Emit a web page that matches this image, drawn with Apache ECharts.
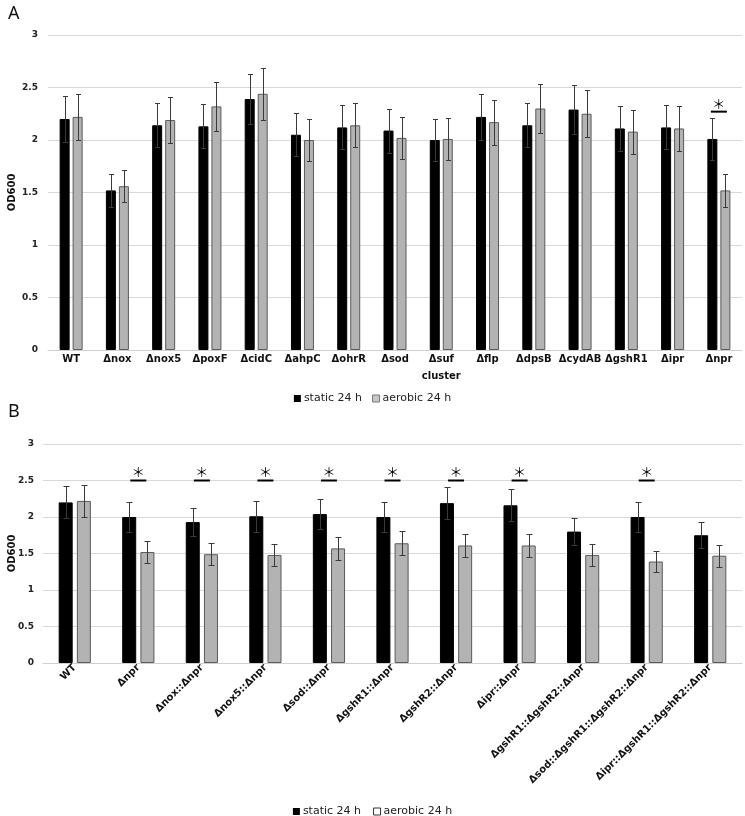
<!DOCTYPE html>
<html>
<head>
<meta charset="utf-8">
<script src="https://cdn.jsdelivr.net/npm/echarts@6/dist/echarts.min.js"></script>
<style>
html,body{margin:0;padding:0;background:#fff;}
#c{width:745px;height:816px;}
</style>
</head>
<body>
<div id="c"></div>
<script>
// ---- Panel A data ----
const catsA = ['WT','Δnox','Δnox5','ΔpoxF','ΔcidC','ΔahpC','ΔohrR','Δsod','Δsuf\ncluster','Δflp','ΔdpsB','ΔcydAB','ΔgshR1','Δipr','Δnpr'];
const staticA     = [2.20, 1.52, 2.14, 2.13, 2.39, 2.05, 2.12, 2.09, 2.00, 2.22, 2.14, 2.29, 2.11, 2.12, 2.01];
const staticErrA  = [0.22, 0.155,0.21, 0.21, 0.24, 0.205,0.21, 0.21, 0.20, 0.22, 0.21, 0.23, 0.21, 0.21, 0.20];
const aerobicA    = [2.22, 1.56, 2.19, 2.32, 2.44, 2.00, 2.14, 2.02, 2.01, 2.17, 2.30, 2.25, 2.08, 2.11, 1.52];
const aerobicErrA = [0.22, 0.155,0.22, 0.23, 0.245,0.20, 0.21, 0.20, 0.20, 0.215,0.235,0.225,0.21, 0.21, 0.155];
const starsA = [[14, 2.27]];

// ---- Panel B data ----
const catsB = ['WT','Δnpr','Δnox::Δnpr','Δnox5::Δnpr','Δsod::Δnpr','ΔgshR1::Δnpr','ΔgshR2::Δnpr','Δipr::Δnpr','ΔgshR1::ΔgshR2::Δnpr','Δsod::ΔgshR1::ΔgshR2::Δnpr','Δipr::ΔgshR1::ΔgshR2::Δnpr'];
const staticB     = [2.20, 2.00, 1.93, 2.01, 2.04, 2.00, 2.19, 2.16, 1.80, 2.00, 1.75];
const staticErrB  = [0.22, 0.21, 0.19, 0.21, 0.205,0.205,0.22, 0.22, 0.185,0.21, 0.18];
const aerobicB    = [2.22, 1.52, 1.49, 1.48, 1.57, 1.64, 1.61, 1.61, 1.48, 1.39, 1.47];
const aerobicErrB = [0.22, 0.15, 0.15, 0.15, 0.16, 0.165,0.16, 0.16, 0.15, 0.14, 0.15];
const starsB = [[1,2.5],[2,2.5],[3,2.5],[4,2.5],[5,2.5],[6,2.5],[7,2.5],[9,2.5]];

const seriesNames = ['static 24 h', 'aerobic 24 h'];

const FONT = 'DejaVu Sans';

function errSeries(axisIdx, vals, errs, offset, cap) {
  return {
    type: 'custom', xAxisIndex: axisIdx, yAxisIndex: axisIdx, silent: true, z: 5,
    data: vals.map((v, i) => [i, v - errs[i], v + errs[i]]),
    encode: { x: 0, y: [1, 2] },
    renderItem: function (params, api) {
      const lo = api.coord([api.value(0), api.value(1)]);
      const hi = api.coord([api.value(0), api.value(2)]);
      const x = Math.round(lo[0] + offset) + 0.5;
      const yl = Math.round(lo[1]) + 0.5, yh = Math.round(hi[1]) + 0.5;
      const st = { stroke: '#3a3a3a', lineWidth: 1 };
      return { type: 'group', children: [
        { type: 'line', shape: { x1: x, y1: yl, x2: x, y2: yh }, style: st },
        { type: 'line', shape: { x1: x - cap, y1: yh, x2: x + cap, y2: yh }, style: st },
        { type: 'line', shape: { x1: x - cap, y1: yl, x2: x + cap, y2: yl }, style: st }
      ]};
    }
  };
}

function starSeries(axisIdx, stars) {
  return {
    type: 'custom', xAxisIndex: axisIdx, yAxisIndex: axisIdx, silent: true, z: 6,
    data: stars,
    encode: { x: 0, y: 1 },
    renderItem: function (params, api) {
      const c = api.coord([api.value(0), api.value(1)]);
      return { type: 'group', children: [
        { type: 'line', shape: { x1: c[0] - 8, y1: c[1], x2: c[0] + 8, y2: c[1] }, style: { stroke: '#000', lineWidth: 2 } },
        { type: 'text', x: c[0], y: c[1] - 8, style: { text: '＊', fill: '#000', font: '13px "Noto Sans CJK JP"', align: 'center', verticalAlign: 'middle' } }
      ]};
    }
  };
}

function barSeries(name, axisIdx, vals, color, border, width) {
  return {
    name: name, type: 'bar', xAxisIndex: axisIdx, yAxisIndex: axisIdx,
    data: vals, barWidth: width, barGap: '30%',
    itemStyle: { color: color, borderColor: border, borderWidth: 1 },
    emphasis: { disabled: true }
  };
}

const yAxisCommon = (margin, gap) => ({
  type: 'value', min: 0, max: 3, interval: 0.5,
  name: 'OD600', nameLocation: 'middle', nameGap: gap, nameRotate: 90, nameMoveOverlap: false,
  nameTextStyle: { fontFamily: FONT, fontWeight: 'bold', fontSize: 10, color: '#111' },
  axisLine: { show: false }, axisTick: { show: false },
  splitLine: { lineStyle: { color: '#d9d9d9', width: 1 } },
  axisLabel: { fontFamily: FONT, fontWeight: 'bold', fontSize: 9, color: '#222', margin: margin,
               formatter: v => String(v) }
});

const chart = echarts.init(document.getElementById('c'), null, { renderer: 'canvas' });
chart.setOption({
  animation: false,
  backgroundColor: '#fff',
  title: [
    { text: 'A', left: 3, top: 0, textStyle: { fontFamily: 'Noto Sans', fontWeight: 'normal', fontSize: 18, color: '#111' } },
    { text: 'B', left: 3, top: 398, textStyle: { fontFamily: 'Noto Sans', fontWeight: 'normal', fontSize: 18, color: '#111' } }
  ],
  legend: [
    { top: 388, left: 'center', itemWidth: 7, itemHeight: 7, itemGap: 10, icon: 'rect',
      textStyle: { fontFamily: FONT, fontSize: 11, color: '#222', padding: [0, 0, 0, -2] },
      data: [ { name: seriesNames[0], itemStyle: { color: '#000', borderWidth: 0 } },
              { name: seriesNames[1], itemStyle: { color: '#c8c8c8', borderColor: '#777', borderWidth: 1 } } ] },
    { top: 801, left: 'center', itemWidth: 7, itemHeight: 7, itemGap: 12, icon: 'rect',
      textStyle: { fontFamily: FONT, fontSize: 11, color: '#222', padding: [0, 0, 0, -2] },
      data: [ { name: seriesNames[0], itemStyle: { color: '#000', borderWidth: 0 } },
              { name: seriesNames[1], itemStyle: { color: '#fff', borderColor: '#333', borderWidth: 1 } } ] }
  ],
  grid: [
    { left: 48, right: 3, top: 35, height: 315, containLabel: false, outerBoundsMode: 'none' },
    { left: 43, right: 3, top: 444, height: 219, containLabel: false, outerBoundsMode: 'none' }
  ],
  xAxis: [
    { type: 'category', gridIndex: 0, data: catsA,
      axisLine: { lineStyle: { color: '#d0d0d0' } }, axisTick: { show: false },
      axisLabel: { interval: 0, fontFamily: FONT, fontWeight: 'bold', fontSize: 10, color: '#111', margin: 1, lineHeight: 17 } },
    { type: 'category', gridIndex: 1, data: catsB,
      axisLine: { lineStyle: { color: '#d0d0d0' } }, axisTick: { show: false },
      axisLabel: { interval: 0, rotate: 45, fontFamily: FONT, fontWeight: 'bold', fontSize: 10, color: '#111', margin: 3 } }
  ],
  yAxis: [
    Object.assign(yAxisCommon(10, 31), { gridIndex: 0 }),
    Object.assign(yAxisCommon(9, 26), { gridIndex: 1 })
  ],
  series: [
    barSeries(seriesNames[0], 0, staticA, '#000', '#000', 10),
    barSeries(seriesNames[1], 0, aerobicA, '#b3b3b3', '#5a5a5a', 10),
    errSeries(0, staticA, staticErrA, -6.5, 2.5),
    errSeries(0, aerobicA, aerobicErrA, 6.5, 2.5),
    starSeries(0, starsA),
    barSeries(seriesNames[0], 1, staticB, '#000', '#000', 14),
    barSeries(seriesNames[1], 1, aerobicB, '#b3b3b3', '#5a5a5a', 14),
    errSeries(1, staticB, staticErrB, -9, 3),
    errSeries(1, aerobicB, aerobicErrB, 9, 3),
    starSeries(1, starsB)
  ]
});
</script>
</body>
</html>
